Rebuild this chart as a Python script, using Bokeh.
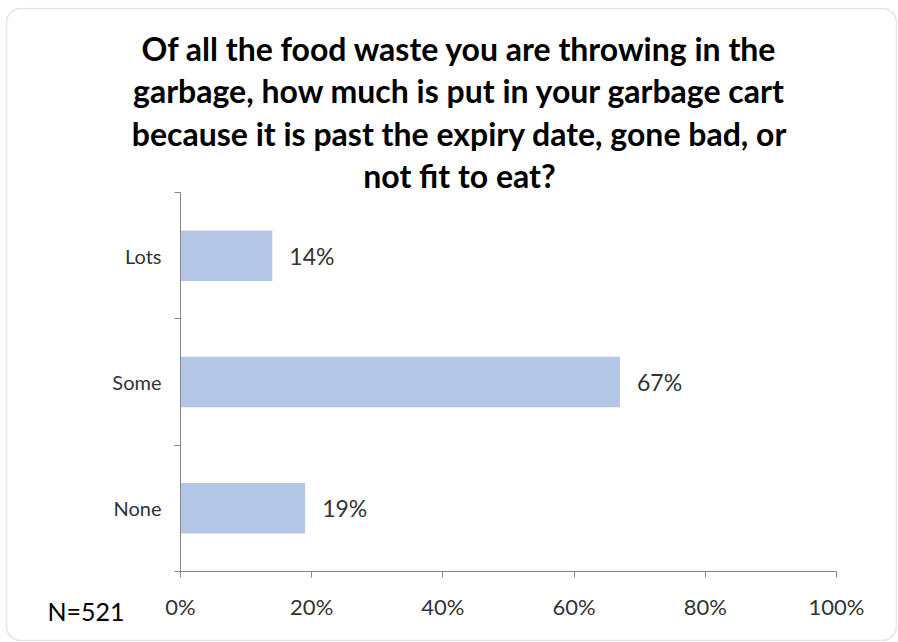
from bokeh.plotting import figure
from bokeh.models import (ColumnDataSource, FixedTicker, PrintfTickFormatter, Label,
                          BoxAnnotation)
from bokeh.core.properties import value
from bokeh.embed import file_html
from bokeh.resources import INLINE

# ---- data ----
categories = ["Lots", "Some", "None"]
shares = [14, 67, 19]
x_ticks = [0, 20, 40, 60, 80, 100]
title_lines = [
    "Of all the food waste you are throwing in the",
    "garbage, how much is put in your garbage cart",
    "because it is past the expiry date, gone bad, or",
    "not fit to eat?",
]
note = "N=521"

n = len(categories)
ypos = [n - i - 0.5 for i in range(n)]
labels = [f"{v}%" for v in shares]
source = ColumnDataSource(dict(y=ypos, v=shares, lab=labels, cat=categories))

# ---- layout (pixels) ----
W, H = 892, 634          # figure size
PL, PR = 175, 831        # plot area left/right (x of 0% and 100%)
PT, PB = 185, 564        # plot area top/bottom
XMAX = 100.0
sx = (PR - PL) / XMAX
sy = (PB - PT) / n
x_start, x_end = -PL / sx, XMAX + (W - PR) / sx
y_start, y_end = -(H - PB) / sy, n + PT / sy

FONT = "Lato"
AXIS_COL = "#868686"
TXT_COL = "#333333"

p = figure(width=W, height=H, output_backend="svg", toolbar_location=None,
           x_range=(x_start, x_end), y_range=(y_start, y_end), title=None,
           min_border=0)
p.margin = (7, 0, 0, 5)
p.outline_line_color = None
p.xgrid.grid_line_color = None
p.ygrid.grid_line_color = None
p.background_fill_color = "white"
p.border_fill_color = "white"

# rounded chart border
p.add_layout(BoxAnnotation(left=1, right=W - 1, bottom=1, top=H - 1,
                           left_units="screen", right_units="screen",
                           top_units="screen", bottom_units="screen",
                           fill_alpha=0, line_color="#a9a9a9", line_width=1.5,
                           border_radius=14, level="underlay"))

p.hbar(y="y", right="v", left=0, height=0.4, source=source,
       fill_color="#B4C7E7", line_color=None)

p.text(x="v", y="y", text="lab", source=source, x_offset=17,
       text_align="left", text_baseline="middle",
       text_font=value(FONT), text_font_size="23px", text_color=TXT_COL)

# x axis
xa = p.xaxis[0]
xa.fixed_location = 0
xa.bounds = (0, XMAX)
xa.ticker = FixedTicker(ticks=x_ticks, minor_ticks=[])
xa.formatter = PrintfTickFormatter(format="%d%%")
xa.axis_line_color = AXIS_COL
xa.major_tick_line_color = AXIS_COL
xa.major_tick_out = 6
xa.major_tick_in = 0
xa.minor_tick_line_color = None
xa.major_label_standoff = 15
xa.major_label_text_font = FONT
xa.major_label_text_font_size = "22px"
xa.major_label_text_color = TXT_COL

# y axis: labels at category centres, tick marks at category boundaries
ya = p.yaxis[0]
ya.fixed_location = 0
ya.bounds = (0, n)
ya.ticker = FixedTicker(ticks=ypos, minor_ticks=list(range(n + 1)))
ya.major_label_overrides = {y: c for y, c in zip(ypos, categories)}
ya.axis_line_color = AXIS_COL
ya.major_tick_line_color = None
ya.major_tick_out = 0
ya.major_tick_in = 0
ya.minor_tick_line_color = AXIS_COL
ya.minor_tick_out = 6
ya.minor_tick_in = 0
ya.major_label_standoff = 13
ya.major_label_text_font = FONT
ya.major_label_text_font_size = "20px"
ya.major_label_text_color = TXT_COL

# title lines (screen px from bottom-left of canvas)
title_x = 454
title_y = [593, 551, 508, 466]
for t, yy in zip(title_lines, title_y):
    p.add_layout(Label(x=title_x, y=yy, x_units="screen", y_units="screen", text=t,
                       text_align="center", text_baseline="alphabetic",
                       text_font=FONT, text_font_style="bold",
                       text_font_size="32px", text_color="#000000"))

p.add_layout(Label(x=42, y=31, x_units="screen", y_units="screen", text=note,
                   text_align="left", text_baseline="alphabetic",
                   text_font=FONT, text_font_size="25px", text_color="#000000"))

open("out.html", "w").write(file_html(p, INLINE))
